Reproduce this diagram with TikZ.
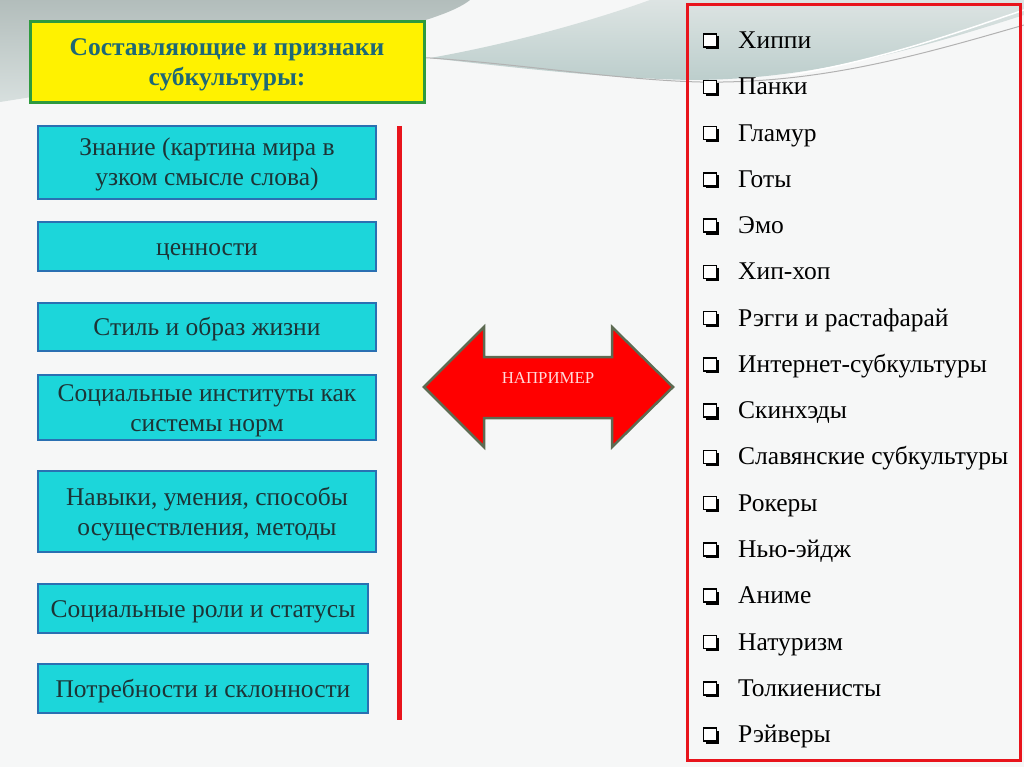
\documentclass[tikz,border=0pt]{standalone}
\usepackage{fontspec}
\setmainfont{Liberation Serif}
\usetikzlibrary{positioning,shadows}

\definecolor{boxfill}{RGB}{28,214,218}
\definecolor{boxline}{RGB}{42,112,178}
\definecolor{boxtext}{RGB}{28,52,54}
\definecolor{titletext}{RGB}{30,104,118}
\definecolor{titleline}{RGB}{46,154,62}
\definecolor{redline}{RGB}{232,20,28}
\definecolor{arrowline}{RGB}{93,107,82}
\definecolor{swoosh}{RGB}{198,210,208}
\definecolor{paper}{RGB}{246,247,247}

% struts that push the texts a little down in their boxes
\newcommand{\boxtop}{\rule{0pt}{24pt}}
\newcommand{\boxbot}{\rule[-7pt]{0pt}{7pt}}

\tikzset{
  featbox/.style={draw=boxline, line width=2.5pt, fill=boxfill, text=boxtext,
    align=center, inner sep=0pt, font=\fontsize{25.5}{30}\selectfont},
  titlebox/.style={draw=titleline, line width=3pt, fill=yellow, text=titletext,
    align=center, inner sep=0pt, font=\fontsize{25.5}{30}\selectfont\bfseries},
  listitem/.style={anchor=base west, inner sep=0pt, font=\fontsize{25.5}{30}\selectfont},
  chkbox/.style={draw=black, fill=white, line width=1.5pt, minimum size=13pt,
    inner sep=0pt, drop shadow={opacity=1, fill=black, shadow xshift=2.5pt, shadow yshift=-2.5pt}},
}

\begin{document}
\begin{tikzpicture}[x=1pt, y=-1pt]
    \useasboundingbox (0,0) rectangle (1024,767);
    % background
    \fill[paper] (0,0) rectangle (1024,767);
    \shade[top color=swoosh!90!black, bottom color=swoosh!70!white]
        (0,0) -- (470,0) .. controls (440,25) and (300,55) .. (0,102) -- cycle;
    \shade[top color=swoosh!60!white, bottom color=swoosh!95!teal]
        (650,0) -- (1024,0) -- (1024,15) .. controls (900,55) and (800,80) .. (690,80)
        .. controls (600,78) and (500,66) .. (430,58) .. controls (520,42) and (600,18) .. (650,0) -- cycle;
    \draw[gray!60, line width=1pt] (250,72) .. controls (330,62) and (390,56) .. (430,58)
        .. controls (520,64) and (620,80) .. (700,82) .. controls (820,84) and (920,55) .. (1024,25);
    \draw[white, line width=1.5pt] (1024,10) .. controls (950,35) and (880,60) .. (790,75);

    % title
    \node[titlebox, minimum width=394, minimum height=81] (title) at (227,62)
        {\boxtop Составляющие и признаки\\субкультуры:\boxbot};

    % features of a subculture
    \node[featbox, minimum width=338, minimum height=73] (f1) at (207,162.5)
        {\boxtop Знание (картина мира в\\узком смысле слова)\boxbot};
    \node[featbox, minimum width=338, minimum height=49] (f2) at (207,246.5) {\boxtop ценности\boxbot};
    \node[featbox, minimum width=338, minimum height=48] (f3) at (207,327) {\boxtop Стиль и образ жизни\boxbot};
    \node[featbox, minimum width=338, minimum height=65] (f4) at (207,407.5)
        {\boxtop Социальные институты как\\системы норм\boxbot};
    \node[featbox, minimum width=338, minimum height=81] (f5) at (207,511.5)
        {\boxtop Навыки, умения, способы\\осуществления, методы\boxbot};
    \node[featbox, minimum width=330, minimum height=49] (f6) at (203,608.5)
        {\boxtop Социальные роли и статусы\boxbot};
    \node[featbox, minimum width=330, minimum height=49] (f7) at (203,688.5)
        {\boxtop Потребности и склонности\boxbot};

    \draw[redline, line width=5pt] (399,126) -- (399,720);

    % double arrow
    \draw[arrowline, line width=2.5pt, fill=red, line join=miter]
        (424,387) -- (484,327) -- (484,357) -- (612,357) -- (612,327) -- (673,387)
        -- (612,447) -- (612,418) -- (484,418) -- (484,447) -- cycle;
    \node[text=red!15!white, font=\fontsize{16.8}{18}\selectfont] (ex) at (548,378) {НАПРИМЕР};

    % examples
    \draw[redline, line width=3pt] (687,5) rectangle (1020,760);
    \foreach \name [count=\i] in {Хиппи, Панки, Гламур, Готы, Эмо, Хип-хоп,
        Рэгги и растафарай, Интернет-субкультуры, Скинхэды, Славянские субкультуры,
        Рокеры, Нью-эйдж, Аниме, Натуризм, Толкиенисты, Рэйверы} {
        \node[listitem] (it\i) at (738,{48.5+(\i-1)*46.27}) {\name};
        \node[chkbox] (cb\i) at ([xshift=-28pt, yshift=8pt]it\i.base west) {};
    }
\end{tikzpicture}
\end{document}
